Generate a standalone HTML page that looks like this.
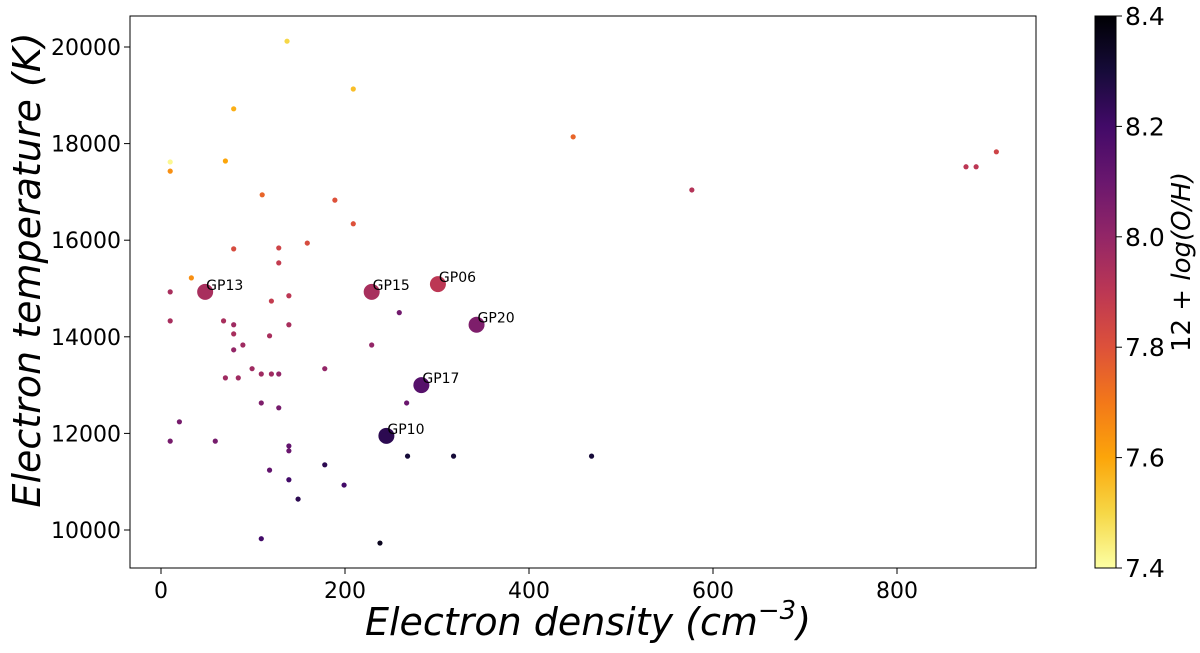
<!DOCTYPE html>
<html><head><meta charset="utf-8"><style>
body{margin:0;background:#fff;width:1200px;height:649px;overflow:hidden;font-family:"DejaVu Sans","Liberation Sans",sans-serif}
</style></head><body>
<svg id="chart" width="1200" height="649" xmlns="http://www.w3.org/2000/svg" font-family="DejaVu Sans, Liberation Sans, sans-serif">
<defs>
<linearGradient id="cb" x1="0" y1="1" x2="0" y2="0">
<stop offset="0" stop-color="#fcffa4"/><stop offset="0.1" stop-color="#f6d746"/><stop offset="0.2" stop-color="#fca50a"/><stop offset="0.3" stop-color="#f37819"/><stop offset="0.4" stop-color="#dd513a"/><stop offset="0.5" stop-color="#bc3754"/><stop offset="0.6" stop-color="#932667"/><stop offset="0.7" stop-color="#6a176e"/><stop offset="0.8" stop-color="#420a68"/><stop offset="0.9" stop-color="#160b39"/><stop offset="1" stop-color="#000004"/>
</linearGradient>
</defs>
<rect x="130" y="16" width="906" height="552" fill="#fff" stroke="#000" stroke-width="1"/>
<g id="xticks"></g><g id="yticks"></g><g id="points"></g>
<text x="588" y="635" text-anchor="middle" font-size="38" font-style="italic">Electron density (cm<tspan font-size="26" dy="-16">−3</tspan><tspan dy="16">)</tspan></text>
<text transform="translate(40,270) rotate(-90)" text-anchor="middle" font-size="38" font-style="italic">Electron temperature (K)</text>
<rect x="1095" y="16" width="21" height="552" fill="url(#cb)" stroke="#000" stroke-width="1"/>
<g id="cbticks"></g>
<text transform="translate(1190,262) rotate(-90)" text-anchor="middle" font-size="26">12 + <tspan font-style="italic">log(O/H)</tspan></text>
</svg>
<script>
const xs=[10,10,137,209,79,70,448,577,875,886,908,110,189,209,159,79,128,128,33,10,48,229,301,68,139,120,10,79,79,259,343,139,118,89,229,79,178,99,70,84,109,120,128,283,267,109,128,20,10,59,245,139,139,268,318,468,178,118,139,199,149,109,238];
const ys=[17620,17430,20120,19130,18720,17640,18140,17040,17520,17520,17830,16940,16830,16340,15940,15820,15840,15530,15220,14930,14930,14930,15090,14330,14850,14740,14330,14250,14060,14500,14250,14250,14020,13830,13830,13730,13340,13340,13150,13150,13230,13230,13230,13000,12630,12630,12530,12240,11840,11840,11950,11740,11640,11530,11530,11530,11350,11240,11040,10930,10640,9820,9730];
const zs=[7.42,7.65,7.5,7.55,7.58,7.6,7.75,7.92,7.9,7.9,7.85,7.75,7.8,7.8,7.82,7.82,7.85,7.88,7.65,7.95,7.95,7.95,7.9,7.95,7.9,7.88,7.95,7.97,7.95,8.08,8.05,7.95,7.95,7.97,8.0,8.0,8.0,7.97,7.97,7.97,7.97,7.97,8.0,8.15,8.1,8.05,8.07,8.07,8.07,8.07,8.25,8.12,8.1,8.3,8.3,8.3,8.25,8.12,8.2,8.2,8.25,8.2,8.35];
const labels=["","","","","","","","","","","","","","","","","","","","","GP13","GP15","GP06","","","","","","","","GP20","","","","","","","","","","","","","GP17","","","","","","","GP10","","","","","","","","","","","",""];
const xTicks=[0,200,400,600,800];
const yTicks=[10000,12000,14000,16000,18000,20000];
const cbTicks=[7.4,7.6,7.8,8.0,8.2,8.4];
const cbLabels=["7.4","7.6","7.8","8.0","8.2","8.4"];
const NS="http://www.w3.org/2000/svg";
const sx=v=>161+v*0.92, sy=v=>47+(20000-v)*0.0483;
const cy=v=>568-(v-7.4)*552;
const stops=["#000004","#160b39","#420a68","#6a176e","#932667","#bc3754","#dd513a","#f37819","#fca50a","#f6d746","#fcffa4"];
function hx(c){return [1,3,5].map(i=>parseInt(c.substr(i,2),16));}
function color(v){let t=Math.max(0,Math.min(1,(8.4-v)/1.0))*10;let i=Math.min(9,Math.floor(t));let f=t-i;let a=hx(stops[i]),b=hx(stops[i+1]);return "rgb("+a.map((x,k)=>Math.round(x+(b[k]-x)*f)).join(",")+")";}
function mk(tag,attrs,parent,txt){const e=document.createElementNS(NS,tag);for(const k in attrs)e.setAttribute(k,attrs[k]);if(txt!==undefined)e.textContent=txt;parent.appendChild(e);return e;}
const gx=document.getElementById("xticks"),gy=document.getElementById("yticks"),gp=document.getElementById("points"),gc=document.getElementById("cbticks");
xTicks.forEach(v=>{
 const l=mk("line",{x1:sx(v),x2:sx(v),y1:568,y2:574,stroke:"#000"},gx);
 
 
 const t=mk("text",{x:sx(v),y:598,"text-anchor":"middle","font-size":22},gx,String(v));
 
 
});
yTicks.forEach(v=>{
 const l=mk("line",{x1:124,x2:130,y1:sy(v),y2:sy(v),stroke:"#000"},gy);
 
 
 const t=mk("text",{x:121,y:sy(v)+8,"text-anchor":"end","font-size":22},gy,String(v));
 
 
});
cbTicks.forEach((v,i)=>{
 const l=mk("line",{x1:1116,x2:1122,y1:cy(v),y2:cy(v),stroke:"#000"},gc);
 
 
 const t=mk("text",{x:1125,y:cy(v)+9,"font-size":25},gc,cbLabels[i]);
 
 
});
xs.forEach((x,i)=>{
 const big=labels[i]!=="";
 const c=mk("circle",{cx:sx(x),cy:sy(ys[i]),r:big?8:2.6,fill:color(zs[i])},gp);
 
 
 if(big){
  const t=mk("text",{x:sx(x)+1,y:sy(ys[i])-2,"font-size":14},gp,labels[i]);
  
  
 }
});
</script>
</body></html>
